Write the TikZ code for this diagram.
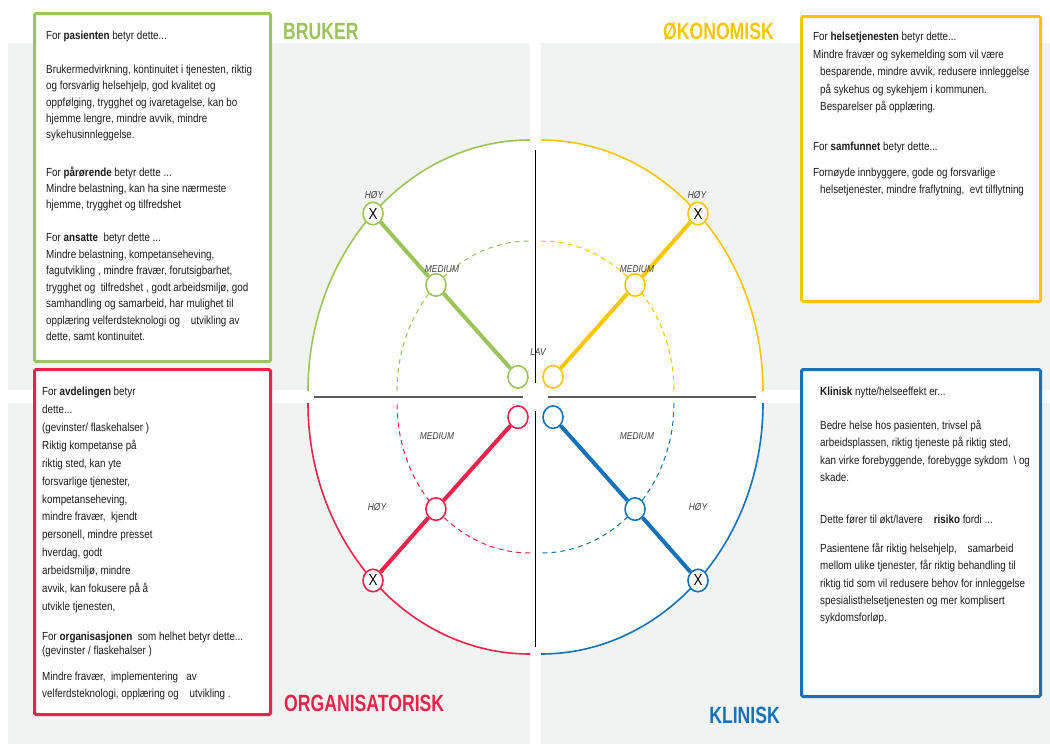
\documentclass[tikz,border=0pt]{standalone}
\usepackage{fontspec}
\setmainfont[FakeStretch=0.84]{Liberation Sans}
\newfontfamily\titlefont[FakeStretch=0.75]{Liberation Sans}
\usetikzlibrary{shapes.geometric}

\definecolor{panelgrey}{RGB}{241,242,242}
\definecolor{brukercol}{RGB}{155,196,90}
\definecolor{okonomicol}{RGB}{247,198,0}
\definecolor{orgcol}{RGB}{232,36,75}
\definecolor{kliniskcol}{RGB}{22,114,184}
\definecolor{bodytext}{RGB}{30,27,28}
\definecolor{axisgrey}{RGB}{90,90,90}

\begin{document}
\begin{tikzpicture}[x=1pt, y=-1pt,
    every node/.style={inner sep=0pt, text=bodytext},
    boxtext/.style={anchor=north west, align=left, font=\fontsize{11.7}{17}\selectfont},
    infobox/.style={line width=3pt, fill=white, rounded corners=1.5pt},
    axistitle/.style={anchor=base west, font=\titlefont\fontsize{23.5}{24}\bfseries\selectfont},
    ratingmark/.style={draw, ellipse, fill=white, line width=1.6pt, minimum width=20pt, minimum height=22.5pt, font=\fontsize{16}{16}\selectfont, text=black},
    ratinglabel/.style={font=\fontsize{10}{10}\selectfont\itshape, text=black!75},
    riskline/.style={line width=4pt},
    midring/.style={dash pattern=on 5pt off 4pt, line width=1pt},
    innerring/.style={dotted, line width=1pt}]
    \useasboundingbox (0,0) rectangle (1050,744);

    % Grey panels
    \fill[panelgrey] (8,43) rectangle (530,390);
    \fill[panelgrey] (541,43) rectangle (1050,390);
    \fill[panelgrey] (8,403) rectangle (530,744);
    \fill[panelgrey] (541,403) rectangle (1050,744);

    % Quadrant centres
    \coordinate (cb) at (530,391);
    \coordinate (co) at (541,391);
    \coordinate (cr) at (530,403);
    \coordinate (ck) at (541,403);

    % Outer quarter rings
    \fill[white] (cb) -- ++(-222,0) arc[start angle=180, end angle=270, x radius=222, y radius=251] -- cycle;
    \fill[white] (co) -- ++(0,-251) arc[start angle=270, end angle=360, x radius=222, y radius=251] -- cycle;
    \fill[white] (cr) -- ++(0,251) arc[start angle=90, end angle=180, x radius=222, y radius=251] -- cycle;
    \fill[white] (ck) -- ++(222,0) arc[start angle=0, end angle=90, x radius=222, y radius=251] -- cycle;
    \draw[brukercol, line width=1.6pt] (cb) ++(-222,0) arc[start angle=180, end angle=270, x radius=222, y radius=251];
    \draw[okonomicol, line width=1.6pt] (co) ++(0,-251) arc[start angle=270, end angle=360, x radius=222, y radius=251];
    \draw[orgcol, line width=1.6pt] (cr) ++(0,251) arc[start angle=90, end angle=180, x radius=222, y radius=251];
    \draw[kliniskcol, line width=1.6pt] (ck) ++(222,0) arc[start angle=0, end angle=90, x radius=222, y radius=251];

    % Medium rings
    \draw[midring, brukercol] (cb) ++(-133,0) arc[start angle=180, end angle=270, x radius=133, y radius=150];
    \draw[midring, okonomicol] (co) ++(0,-150) arc[start angle=270, end angle=360, x radius=133, y radius=150];
    \draw[midring, orgcol] (cr) ++(0,150) arc[start angle=90, end angle=180, x radius=133, y radius=150];
    \draw[midring, kliniskcol] (ck) ++(133,0) arc[start angle=0, end angle=90, x radius=133, y radius=150];

    % Low rings
    \draw[innerring, brukercol!60] (cb) ++(-17,0) arc[start angle=180, end angle=270, x radius=17, y radius=20];
    \draw[innerring, okonomicol!60] (co) ++(0,-20) arc[start angle=270, end angle=360, x radius=17, y radius=20];
    \draw[innerring, orgcol!60] (cr) ++(0,20) arc[start angle=90, end angle=180, x radius=17, y radius=20];
    \draw[innerring, kliniskcol!60] (ck) ++(17,0) arc[start angle=0, end angle=90, x radius=17, y radius=20];

    % Axes
    \draw[black, line width=1.2pt] (535.5,150) -- (535.5,383);
    \draw[black, line width=1.2pt] (535.5,411) -- (535.5,647);
    \draw[axisgrey, line width=1.5pt] (314,397) -- (523,397);
    \draw[axisgrey, line width=1.5pt] (548,397) -- (756,397);

    % Rating marks
    \node[ratingmark, draw=brukercol] (bruker-lav) at ([shift={(225:17 and 20)}]cb) {};
    \node[ratingmark, draw=brukercol] (bruker-med) at ([shift={(225:133 and 150)}]cb) {};
    \node[ratingmark, draw=brukercol] (bruker-hoy) at ([shift={(225:222 and 251)}]cb) {X};
    \node[ratingmark, draw=okonomicol] (okonomi-lav) at ([shift={(315:17 and 20)}]co) {};
    \node[ratingmark, draw=okonomicol] (okonomi-med) at ([shift={(315:133 and 150)}]co) {};
    \node[ratingmark, draw=okonomicol] (okonomi-hoy) at ([shift={(315:222 and 251)}]co) {X};
    \node[ratingmark, draw=orgcol] (org-lav) at ([shift={(135:17 and 20)}]cr) {};
    \node[ratingmark, draw=orgcol] (org-med) at ([shift={(135:133 and 150)}]cr) {};
    \node[ratingmark, draw=orgcol] (org-hoy) at ([shift={(135:222 and 251)}]cr) {X};
    \node[ratingmark, draw=kliniskcol] (klinisk-lav) at ([shift={(45:17 and 20)}]ck) {};
    \node[ratingmark, draw=kliniskcol] (klinisk-med) at ([shift={(45:133 and 150)}]ck) {};
    \node[ratingmark, draw=kliniskcol] (klinisk-hoy) at ([shift={(45:222 and 251)}]ck) {X};

    % Risk lines
    \draw[riskline, brukercol] (bruker-lav) -- (bruker-med) -- (bruker-hoy);
    \draw[riskline, okonomicol] (okonomi-lav) -- (okonomi-med) -- (okonomi-hoy);
    \draw[riskline, orgcol] (org-lav) -- (org-med) -- (org-hoy);
    \draw[riskline, kliniskcol] (klinisk-lav) -- (klinisk-med) -- (klinisk-hoy);

    % Level labels
    \node[ratinglabel] (bruker-hoy-lbl) at (374,195) {HØY};
    \node[ratinglabel] (bruker-med-lbl) at (442,269) {MEDIUM};
    \node[ratinglabel] (lav-lbl) at (538,352) {LAV};
    \node[ratinglabel] (okonomi-hoy-lbl) at (697,195) {HØY};
    \node[ratinglabel] (okonomi-med-lbl) at (637,269) {MEDIUM};
    \node[ratinglabel] (org-med-lbl) at (437,436) {MEDIUM};
    \node[ratinglabel] (org-hoy-lbl) at (377,507) {HØY};
    \node[ratinglabel] (klinisk-med-lbl) at (637,436) {MEDIUM};
    \node[ratinglabel] (klinisk-hoy-lbl) at (698,507) {HØY};

    % Bruker box
    \draw[infobox, draw=brukercol] (34.5,13.5) rectangle (270.5,361.5);
    \node[boxtext] (pasient-head) at (46,31) {For \textbf{pasienten} betyr dette...};
    \node[boxtext, font=\fontsize{11.7}{16.3}\selectfont] (pasient-txt) at (46,65)
        {Brukermedvirkning, kontinuitet i tjenesten, riktig\\og forsvarlig helsehjelp, god kvalitet og\\oppfølging, trygghet og ivaretagelse, kan bo\\hjemme lengre, mindre avvik, mindre\\sykehusinnleggelse.};
    \node[boxtext, font=\fontsize{11.7}{16}\selectfont] (parorende-txt) at (46,167)
        {For \textbf{pårørende} betyr dette ...\\Mindre belastning, kan ha sine nærmeste\\hjemme, trygghet og tilfredshet};
    \node[boxtext, font=\fontsize{11.7}{16.5}\selectfont] (ansatte-txt) at (46,233)
        {For \textbf{ansatte}\ \ betyr dette ...\\Mindre belastning, kompetanseheving,\\fagutvikling , mindre fravær, forutsigbarhet,\\trygghet og\ \ tilfredshet , godt arbeidsmiljø, god\\samhandling og samarbeid, har mulighet til\\opplæring velferdsteknologi og\ \ \ \ utvikling av\\dette, samt kontinuitet.};

    % Organisatorisk box
    \draw[infobox, draw=orgcol] (34.5,369.5) rectangle (270.5,714.5);
    \node[boxtext, font=\fontsize{11.7}{17.9}\selectfont] (avdeling-txt) at (42,387)
        {For \textbf{avdelingen} betyr\\dette...\\(gevinster/ flaskehalser )\\Riktig kompetanse på\\riktig sted, kan yte\\forsvarlige tjenester,\\kompetanseheving,\\mindre fravær,\ \ kjendt\\personell, mindre presset\\hverdag, godt\\arbeidsmiljø, mindre\\avvik, kan fokusere på å\\utvikle tjenesten,};
    \node[boxtext, font=\fontsize{11.7}{14}\selectfont] (organisasjon-head) at (42,632)
        {For \textbf{organisasjonen}\ \ som helhet betyr dette...\\(gevinster / flaskehalser )};
    \node[boxtext, font=\fontsize{11.7}{17}\selectfont] (organisasjon-txt) at (42,672)
        {Mindre fravær,\ \ implementering\ \ \ av\\velferdsteknologi, opplæring og\ \ \ \ utvikling .};

    % Okonomisk box
    \draw[infobox, draw=okonomicol] (801.5,16.5) rectangle (1040.5,301.5);
    \node[boxtext, font=\fontsize{11.7}{17.5}\selectfont] (helse-txt) at (813,32)
        {For \textbf{helsetjenesten} betyr dette...\\Mindre fravær og sykemelding som vil være\\\hspace*{7pt}besparende, mindre avvik, redusere innleggelse\\\hspace*{7pt}på sykehus og sykehjem i kommunen.\\\hspace*{7pt}Besparelser på opplæring.};
    \node[boxtext] (samfunn-head) at (813,142) {For \textbf{samfunnet} betyr dette...};
    \node[boxtext] (samfunn-txt) at (813,168)
        {Fornøyde innbyggere, gode og forsvarlige\\\hspace*{7pt}helsetjenester, mindre fraflytning,\ \ evt tilflytning};

    % Klinisk box
    \draw[infobox, draw=kliniskcol] (801.5,369.5) rectangle (1040.5,696.5);
    \node[boxtext] (klinisk-head) at (820,387) {\textbf{Klinisk} nytte/helseeffekt er...};
    \node[boxtext, font=\fontsize{11.7}{17.3}\selectfont] (klinisk-txt) at (820,420)
        {Bedre helse hos pasienten, trivsel på\\arbeidsplassen, riktig tjeneste på riktig sted,\\kan virke forebyggende, forebygge sykdom\ \ \textbackslash\ og\\skade.};
    \node[boxtext] (risiko-head) at (820,515) {Dette fører til økt/lavere\ \ \ \ \textbf{risiko} fordi ...};
    \node[boxtext, font=\fontsize{11.7}{17.3}\selectfont] (risiko-txt) at (820,543)
        {Pasientene får riktig helsehjelp,\ \ \ \ samarbeid\\mellom ulike tjenester, får riktig behandling til\\riktig tid som vil redusere behov for innleggelse\\spesialisthelsetjenesten og mer komplisert\\sykdomsforløp.};

    % Dimension titles
    \node[axistitle, text=brukercol] (bruker-title) at (283,39) {BRUKER};
    \node[axistitle, anchor=base east, text=okonomicol] (okonomi-title) at (774,39) {ØKONOMISK};
    \node[axistitle, text=orgcol] (org-title) at (284,711) {ORGANISATORISK};
    \node[axistitle, anchor=base east, text=kliniskcol] (klinisk-title) at (780,723) {KLINISK};
\end{tikzpicture}
\end{document}
